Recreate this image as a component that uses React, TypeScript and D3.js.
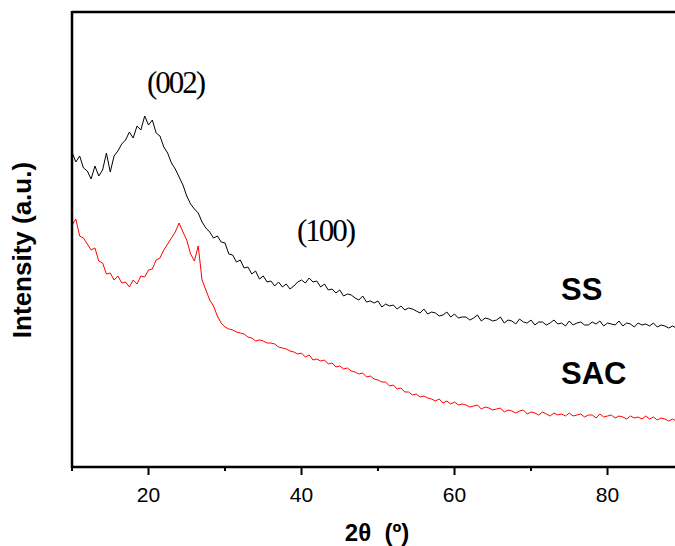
import React from "react";
import * as d3 from "d3";

const twoTheta: number[] = d3.range(0, 159).map((i) => 10 + i * 0.5);

const ssValues: number[] = [
  315, 305, 311, 299, 296, 288, 301, 291, 297, 314,
  295, 311, 316, 323, 327, 335, 329, 341, 337, 351,
  342, 347, 334, 331, 320, 314, 304, 298, 290, 282,
  271, 263, 258, 254, 245, 239, 235, 229, 231, 225,
  224, 213, 212, 205, 207, 199, 200, 193, 196, 188,
  191, 185, 186, 181, 185, 180, 183, 178, 181, 185,
  187, 184, 189, 185, 186, 180, 183, 177, 178, 174,
  177, 171, 173, 172, 169, 167, 171, 165, 166, 164,
  166, 160, 163, 161, 162, 158, 161, 157, 159, 158,
  156, 154, 158, 153, 155, 154, 151, 152, 155, 150,
  153, 149, 150, 150, 147, 149, 152, 146, 149, 148,
  146, 147, 150, 144, 147, 146, 143, 148, 145, 144,
  147, 142, 145, 145, 142, 144, 147, 143, 144, 141,
  146, 142, 144, 145, 142, 142, 145, 143, 146, 141,
  144, 143, 142, 146, 141, 144, 143, 140, 144, 142,
  143, 141, 144, 140, 142, 141, 139, 141, 139,
];

const sacValues: number[] = [
  242, 248, 231, 229, 223, 217, 219, 206, 204, 193,
  194, 187, 191, 184, 185, 180, 187, 183, 191, 190,
  197, 198, 207, 209, 217, 223, 229, 235, 244, 235,
  227, 213, 206, 221, 187, 177, 167, 161, 151, 144,
  140, 138, 137, 135, 134, 133, 130, 129, 126, 127,
  126, 124, 124, 123, 120, 119, 118, 116, 115, 113,
  114, 110, 112, 107, 108, 106, 107, 103, 104, 100,
  101, 98, 99, 96, 95, 93, 94, 90, 91, 88,
  87, 85, 85, 81, 82, 78, 79, 75, 75, 72,
  73, 70, 71, 69, 68, 66, 68, 64, 66, 63,
  65, 62, 63, 62, 60, 61, 62, 58, 60, 59,
  57, 58, 59, 55, 57, 56, 54, 56, 57, 53,
  55, 54, 52, 55, 53, 51, 54, 52, 53, 51,
  54, 51, 52, 53, 50, 52, 52, 49, 53, 50,
  51, 52, 49, 51, 50, 48, 51, 49, 50, 48,
  51, 48, 50, 47, 49, 48, 46, 48, 46,
];

const xTicksMajor: number[] = [20, 40, 60, 80];
const xTicksMinor: number[] = [10, 30, 50, 70];

const W = 675;
const H = 546;
const left = 72;
const right = 675;
const top = 12;
const bottom = 467;

export default function App() {
  const x = d3.scaleLinear().domain([10, 88.82]).range([left, right]);
  const y = d3.scaleLinear().domain([0, 455]).range([bottom, top]);
  const line = d3
    .line<number>()
    .x((_, i) => x(twoTheta[i]))
    .y((d) => y(d));

  return (
    <svg
      width={W}
      height={H}
      style={{ position: "absolute", left: 0, top: 0, background: "#fff" }}
    >
      <defs>
        <clipPath id="plotclip">
          <rect x={left} y={top} width={right - left} height={bottom - top} />
        </clipPath>
      </defs>
      <g clipPath="url(#plotclip)">
        <path d={line(ssValues) || ""} fill="none" stroke="#000" strokeWidth={1} />
        <path d={line(sacValues) || ""} fill="none" stroke="#ff0000" strokeWidth={1} />
      </g>
      <line x1={left} x2={right} y1={top} y2={top} stroke="#000" strokeWidth={2.5} />
      <line x1={left} x2={left} y1={top - 1} y2={bottom + 1} stroke="#000" strokeWidth={2.5} />
      <line x1={left - 1} x2={right} y1={bottom} y2={bottom} stroke="#000" strokeWidth={2.5} />
      {xTicksMajor.map((t) => (
        <g key={"M" + t}>
          <line x1={x(t)} x2={x(t)} y1={bottom} y2={bottom + 8} stroke="#000" strokeWidth={2} />
          <text
            x={x(t)}
            y={502}
            textAnchor="middle"
            fontFamily="Liberation Sans, Arial, sans-serif"
            fontSize={21}
          >
            {t}
          </text>
        </g>
      ))}
      {xTicksMinor.map((t) => (
        <line key={"m" + t} x1={x(t)} x2={x(t)} y1={bottom} y2={bottom + 4} stroke="#000" strokeWidth={2} />
      ))}
      <text
        x={377}
        y={541}
        textAnchor="middle"
        fontFamily="Liberation Sans, Arial, sans-serif"
        fontWeight="bold"
        fontSize={24}
        style={{ whiteSpace: "pre" }}
      >
        {"2θ  (º)"}
      </text>
      <text
        transform="translate(31,250) rotate(-90)"
        textAnchor="middle"
        fontFamily="Liberation Sans, Arial, sans-serif"
        fontWeight="bold"
        fontSize={26}
      >
        Intensity (a.u.)
      </text>
      <text x={147} y={93} fontFamily="Liberation Serif, Times New Roman, serif" fontSize={31} letterSpacing={-2}>
        (002)
      </text>
      <text x={297} y={241} fontFamily="Liberation Serif, Times New Roman, serif" fontSize={31} letterSpacing={-2}>
        (100)
      </text>
      <text x={561} y={300} fontFamily="Liberation Sans, Arial, sans-serif" fontWeight="bold" fontSize={31}>
        SS
      </text>
      <text x={561} y={384} fontFamily="Liberation Sans, Arial, sans-serif" fontWeight="bold" fontSize={31}>
        SAC
      </text>
    </svg>
  );
}
